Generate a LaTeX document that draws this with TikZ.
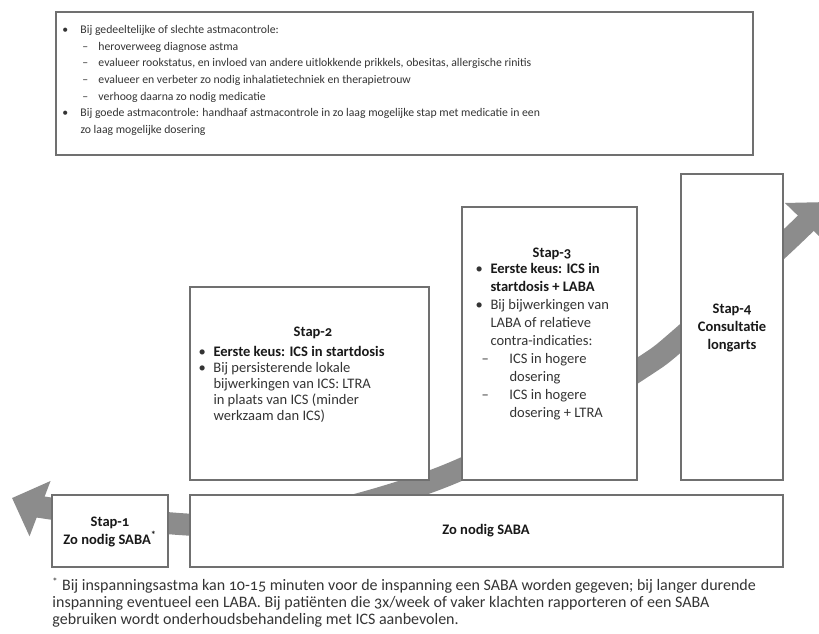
\documentclass[tikz,border=0pt]{standalone}
\usepackage{fontspec}
\setmainfont[Numbers=OldStyle]{Carlito}
\usetikzlibrary{arrows.meta}

\newcommand{\itm}[1]{\makebox[#1][l]{•}}
\newcommand{\strp}[1]{\makebox[#1][l]{–}}
\newcommand{\vet}[1]{{\bfseries\color{black!90}#1}}

\tikzset{every picture/.style={line width=0.75pt},
  stapbox/.style={draw={rgb, 255:red, 112; green, 112; blue, 112}, line width=1.2, fill=white},
  band/.style={draw={rgb, 255:red, 140; green, 140; blue, 140}, line width=16.5,
    {Triangle[length=22.5pt,width=43pt]}-{Triangle[length=22.5pt,width=43pt]}},
  tekst/.style={inner sep=0pt, align=left, text={rgb, 255:red, 52; green, 52; blue, 52}},
  adviestekst/.style={tekst, font=\fontsize{8.8}{12.5}\selectfont},
  staptekst/.style={tekst, font=\fontsize{10.9}{13.5}\selectfont},
  noottekst/.style={tekst, font=\fontsize{12}{12.75}\selectfont}}

\begin{document}
\begin{tikzpicture}[x=0.75pt,y=0.75pt,yscale=-1,xscale=1]
\useasboundingbox (0,0) rectangle (819,634);
\clip (0,0) rectangle (819,634);

%Shape: Curved Arrow (behind the boxes)
\draw [band] plot [smooth, tension=0.6] coordinates {(12,498) (60,510) (179,524) (260,524) (348,507) (450,474) (550,424) (640,369) (682,337) (783,245) (827,202)};

%Shape: Rectangle [advies]
\draw [stapbox] (56,12) rectangle (753,155);
%Shape: Rectangle [stap 2]
\draw [stapbox] (190,287) rectangle (429,480);
%Shape: Rectangle [stap 3]
\draw [stapbox] (462,207) rectangle (637,480);
%Shape: Rectangle [stap 4]
\draw [stapbox] (681,174) rectangle (783,480);
%Shape: Rectangle [stap 1]
\draw [stapbox] (52,495) rectangle (168,567);
%Shape: Rectangle [zo nodig]
\draw [stapbox] (190,495) rectangle (783,567);

% Text Node
\node (advies) [adviestekst, anchor=north west] at (62,25) {\itm{13.5pt}Bij gedeeltelijke of slechte astmacontrole:\\
\hspace*{15pt}\strp{12pt}heroverweeg diagnose astma\\
\hspace*{15pt}\strp{12pt}evalueer rookstatus, en invloed van andere uitlokkende prikkels, obesitas, allergische rinitis\\
\hspace*{15pt}\strp{12pt}evalueer en verbeter zo nodig inhalatietechniek en therapietrouw\\
\hspace*{15pt}\strp{12pt}verhoog daarna zo nodig medicatie\\
\itm{13.5pt}Bij goede astmacontrole: handhaaf astmacontrole in zo laag mogelijke stap met medicatie in een\\
\hspace*{13.5pt}zo laag mogelijke dosering};
% Text Node
\node (stap2kop) [staptekst, anchor=base] at (313,337) {\vet{Stap-2}};
% Text Node
\node (stap2tekst) [staptekst, font=\fontsize{10.9}{12}\selectfont, anchor=north west] at (198,346) {\itm{11.25pt}\vet{Eerste keus: ICS in startdosis}\\
\itm{11.25pt}Bij persisterende lokale\\
\hspace*{11.25pt}bijwerkingen van ICS: LTRA\\
\hspace*{11.25pt}in plaats van ICS (minder\\
\hspace*{11.25pt}werkzaam dan ICS)};
% Text Node
\node (stap3kop) [staptekst, anchor=base] at (552,258) {\vet{Stap-3}};
% Text Node
\node (stap3tekst) [staptekst, anchor=north west] at (475,263) {\itm{11.25pt}\vet{Eerste keus: ICS in}\\
\hspace*{11.25pt}\vet{startdosis + LABA}\\
\itm{11.25pt}Bij bijwerkingen van\\
\hspace*{11.25pt}LABA of relatieve\\
\hspace*{11.25pt}contra-indicaties:\\
\hspace*{4.5pt}\strp{21pt}ICS in hogere\\
\hspace*{25.5pt}dosering\\
\hspace*{4.5pt}\strp{21pt}ICS in hogere\\
\hspace*{25.5pt}dosering + LTRA};
% Text Node
\node (stap4) [staptekst, align=center, anchor=north] at (732,303) {\vet{Stap-4}\\\vet{Consultatie}\\\vet{longarts}};
% Text Node
\node (stap1) [staptekst, align=center, anchor=north] at (110,516) {\vet{Stap-1}\\\vet{Zo nodig SABA\textsuperscript{*}}};
% Text Node
\node (zonodig) [staptekst] at (486,531) {\vet{Zo nodig SABA}};
% Text Node
\node (voetnoot) [noottekst, anchor=north west] at (52,577) {\textsuperscript{*} Bij inspanningsastma kan 10-15 minuten voor de inspanning een SABA worden gegeven; bij langer durende\\
inspanning eventueel een LABA. Bij patiënten die 3x/week of vaker klachten rapporteren of een SABA\\
gebruiken wordt onderhoudsbehandeling met ICS aanbevolen.};

\end{tikzpicture}
\end{document}
